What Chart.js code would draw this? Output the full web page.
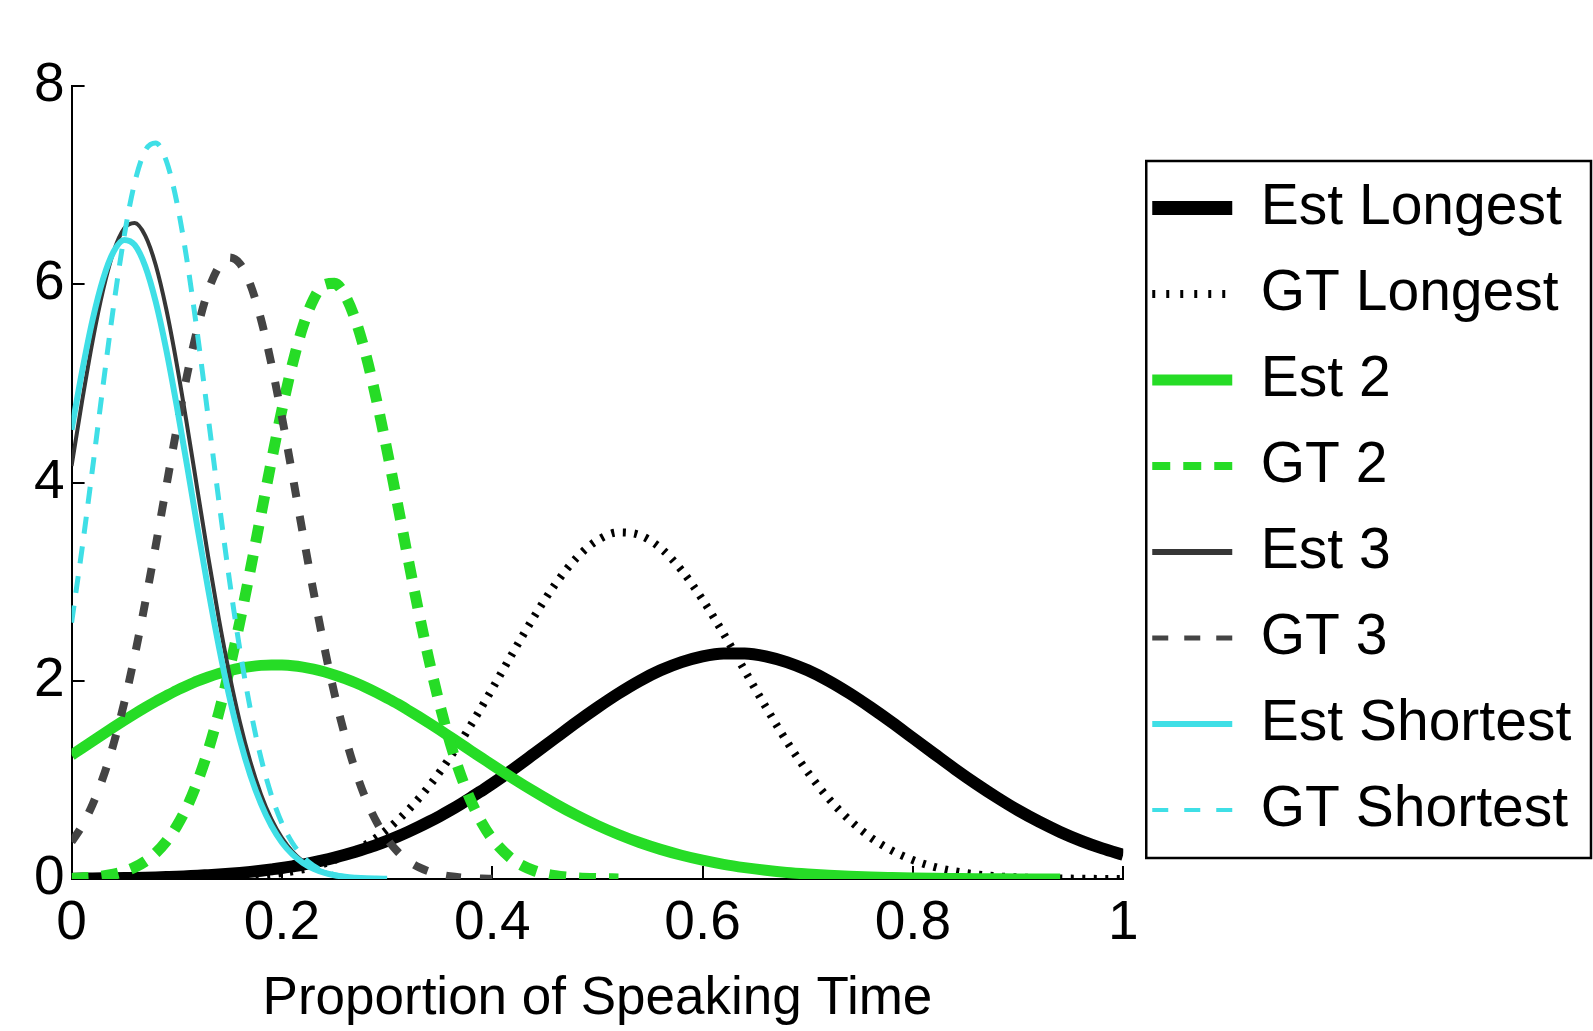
<!DOCTYPE html>
<html><head><meta charset="utf-8">
<script src="https://cdn.jsdelivr.net/npm/chart.js@4.4.1/dist/chart.umd.min.js"></script>
<style>html,body{margin:0;padding:0;background:#fff;overflow:hidden}</style>
</head><body>
<canvas id="c" width="1593" height="1031"></canvas>
<script>
// x positions (proportion of speaking time)
const xs = [0,0.01,0.02,0.03,0.04,0.05,0.06,0.07,0.08,0.09,
  0.10,0.11,0.12,0.13,0.14,0.15,0.16,0.17,0.18,0.19,
  0.20,0.21,0.22,0.23,0.24,0.25,0.26,0.27,0.28,0.29,
  0.30,0.31,0.32,0.33,0.34,0.35,0.36,0.37,0.38,0.39,0.40,
  0.42,0.44,0.46,0.48,0.50,0.52,0.54,0.56,0.58,0.60,
  0.62,0.64,0.66,0.68,0.70,0.72,0.74,0.76,0.78,0.80,
  0.82,0.84,0.86,0.88,0.90,0.92,0.94,0.96,0.98,1.00];

const xTickLabels = ['0','0.2','0.4','0.6','0.8','1'];
const yTickLabels = ['0','2','4','6','8'];
const seriesNames = ['Est Longest','GT Longest','Est 2','GT 2','Est 3','GT 3','Est Shortest','GT Shortest'];

const estLongest = [0.0035,0.0043,0.0052,0.0064,0.0078,0.0094,0.0113,0.0136,0.0163,0.0195,
  0.023,0.028,0.033,0.039,0.045,0.053,0.062,0.072,0.084,0.097,
  0.111,0.128,0.146,0.167,0.190,0.216,0.244,0.275,0.309,0.345,
  0.385,0.428,0.475,0.525,0.578,0.634,0.693,0.756,0.822,0.891,0.961,
  1.109,1.265,1.422,1.580,1.730,1.871,1.998,2.105,2.188,2.247,
  2.276,2.276,2.247,2.188,2.105,1.998,1.871,1.730,1.580,1.422,
  1.265,1.109,0.961,0.822,0.693,0.578,0.475,0.385,0.309,0.244];

const gtLongest = [0.0001,0.0001,0.0002,0.0002,0.0003,0.0005,0.0007,0.0011,0.0016,0.0023,
  0.0034,0.0046,0.0064,0.0087,0.0117,0.0157,0.0208,0.0274,0.036,0.047,
  0.060,0.077,0.098,0.123,0.154,0.191,0.235,0.287,0.348,0.418,
  0.499,0.592,0.695,0.810,0.938,1.078,1.230,1.388,1.559,1.737,1.919,
  2.291,2.650,2.975,3.238,3.417,3.497,3.470,3.339,3.115,2.818,
  2.474,2.104,1.737,1.388,1.078,0.810,0.592,0.418,0.287,0.191,
  0.123,0.077,0.047,0.027,0.016,0.009,0.005,0.003,0.001,0.001];

const est2 = [1.250,1.321,1.391,1.462,1.532,1.600,1.666,1.730,1.791,1.848,
  1.903,1.952,1.998,2.038,2.073,2.102,2.126,2.143,2.155,2.160,
  2.158,2.151,2.137,2.117,2.091,2.059,2.022,1.980,1.933,1.881,
  1.825,1.767,1.704,1.639,1.572,1.504,1.434,1.364,1.292,1.222,1.151,
  1.013,0.882,0.758,0.644,0.541,0.449,0.368,0.299,0.240,0.190,
  0.148,0.115,0.088,0.066,0.050,0.037,0.027,0.019,0.014,0.010,
  0.007,0.005,0.003,0.002,0.001,0.001,0.0005];

const gt2 = [0.006,0.011,0.018,0.030,0.048,0.076,0.118,0.178,0.262,0.379,
  0.533,0.734,0.990,1.303,1.679,2.112,2.597,3.121,3.670,4.215,
  4.733,5.195,5.575,5.847,5.995,6.009,5.887,5.638,5.279,4.830,
  4.322,3.780,3.229,2.697,2.203,1.761,1.373,1.048,0.781,0.569,0.406,
  0.192,0.083,0.033,0.012,0.004,0.001];

const est3 = [4.168,4.822,5.429,5.943,6.331,6.562,6.617,6.490,6.194,5.750,
  5.195,4.564,3.903,3.245,2.626,2.069,1.585,1.181,0.856,0.603,
  0.415,0.277,0.179,0.113,0.070,0.042,0.024,0.014,0.008,0.004,0.002];

const gt3 = [0.374,0.537,0.753,1.027,1.367,1.776,2.253,2.789,3.363,3.958,
  4.546,5.094,5.568,5.937,6.177,6.270,6.208,5.996,5.651,5.195,
  4.661,4.076,3.480,2.900,2.356,1.867,1.443,1.090,0.801,0.576,
  0.404,0.276,0.184,0.120,0.076,0.047,0.028,0.016,0.009,0.005,0.003];

const estShortest = [4.532,5.121,5.643,6.055,6.330,6.447,6.397,6.183,5.823,5.341,
  4.773,4.159,3.526,2.915,2.347,1.840,1.406,1.047,0.760,0.537,
  0.369,0.248,0.162,0.103,0.064,0.038,0.022,0.013,0.007,0.004,0.002];

const gtShortest = [2.587,3.336,4.147,4.984,5.784,6.486,7.024,7.348,7.425,7.247,
  6.831,6.221,5.473,4.650,3.818,3.024,2.315,1.713,1.224,0.845,
  0.563,0.363,0.225,0.135,0.079,0.044,0.024,0.012,0.006,0.003,0.001];

const seriesValues = [estLongest, gtLongest, est2, gt2, est3, gt3, estShortest, gtShortest];

// styles (kept apart from the data)
const FONT = "'Liberation Sans', Arial, Helvetica, sans-serif";
const GREEN = '#26dc26', CYAN = '#3fdfe6', DARK = '#363636', BLACK = '#000000';
const styles = [
  {color: BLACK, width: 12, dash: [],       lw: 14, ldash: []},
  {color: BLACK, width: 8,  dash: [3, 8.5], lw: 8,  ldash: [3, 11]},
  {color: GREEN, width: 11, dash: [],       lw: 11, ldash: []},
  {color: GREEN, width: 11, dash: [17, 13], lw: 8,  ldash: [18, 13]},
  {color: DARK,  width: 4,  dash: [],       lw: 6,  ldash: []},
  {color: '#444444', width: 8, dash: [15, 19], lw: 5, ldash: [16, 16]},
  {color: CYAN,  width: 6,  dash: [],       lw: 6,  ldash: []},
  {color: CYAN,  width: 5,  dash: [17, 13], lw: 4,  ldash: [16, 16]}
];

const datasets = seriesNames.map((name, i) => ({
  label: name,
  data: seriesValues[i].map((v, k) => ({x: xs[k], y: v})),
  borderColor: styles[i].color,
  backgroundColor: styles[i].color,
  borderWidth: styles[i].width,
  borderDash: styles[i].dash,
  pointRadius: 0,
  fill: false,
  cubicInterpolationMode: 'monotone',
  order: seriesNames.length - i
}));

const whiteBg = {
  id: 'whiteBg',
  beforeDraw(chart) {
    const ctx = chart.ctx; ctx.save(); ctx.fillStyle = '#fff';
    ctx.fillRect(0, 0, chart.width, chart.height); ctx.restore();
  }
};
const legendFrame = {
  id: 'legendFrame',
  afterLayout(chart) {
    // let the legend use the space up to the canvas edge (avoid clipping its text)
    const lg = chart.legend;
    if (lg) { lg.right = chart.width; lg.width = lg.right - lg.left; }
  },
  afterDraw(chart) {
    const lg = chart.legend, ctx = chart.ctx;
    const x0 = lg.left + 23, y0 = lg.top + 75, x1 = chart.width - 2, y1 = lg.top + 772;
    ctx.save(); ctx.strokeStyle = '#000'; ctx.lineWidth = 2.5; ctx.setLineDash([]);
    ctx.strokeRect(x0, y0, x1 - x0, y1 - y0); ctx.restore();
  }
};

new Chart(document.getElementById('c'), {
  type: 'line',
  data: {datasets},
  plugins: [whiteBg, legendFrame],
  options: {
    responsive: false,
    animation: false,
    devicePixelRatio: 1,
    layout: {padding: {left: 14, right: 100, top: 86, bottom: 0}},
    plugins: {
      tooltip: {enabled: false},
      legend: {
        position: 'right',
        align: 'start',
        title: {display: true, text: '', font: {size: 10}, padding: {top: 52.5, bottom: 0}},
        labels: {
          usePointStyle: true,
          pointStyleWidth: 80,
          padding: 29,
          color: '#000',
          font: {size: 57, family: FONT},
          generateLabels: (chart) => chart.data.datasets.map((ds, i) => ({
            text: ds.label,
            strokeStyle: styles[i].color,
            fillStyle: styles[i].color,
            fontColor: '#000',
            lineWidth: styles[i].lw,
            lineDash: styles[i].ldash,
            lineCap: 'butt',
            pointStyle: 'line',
            hidden: false,
            datasetIndex: i
          }))
        }
      }
    },
    scales: {
      x: {
        type: 'linear', min: 0, max: 1,
        ticks: {stepSize: 0.2, maxRotation: 0, autoSkip: false, padding: 25, color: '#000',
          font: {size: 55, family: FONT}, callback: (v, i) => xTickLabels[i]},
        grid: {drawOnChartArea: false, drawTicks: true, tickLength: -13, color: '#000', lineWidth: 2},
        border: {display: true, color: '#000', width: 2},
        title: {display: true, text: 'Proportion of Speaking Time', color: '#000',
          font: {size: 53, family: FONT}, padding: {top: -14.6, bottom: 0}}
      },
      y: {
        min: 0, max: 8,
        ticks: {stepSize: 2, padding: 20, color: '#000', font: {size: 55, family: FONT},
          callback: (v, i) => yTickLabels[i]},
        grid: {drawOnChartArea: false, drawTicks: true, tickLength: -13, color: '#000', lineWidth: 2},
        border: {display: true, color: '#000', width: 2}
      }
    }
  }
});
</script>
</body></html>
